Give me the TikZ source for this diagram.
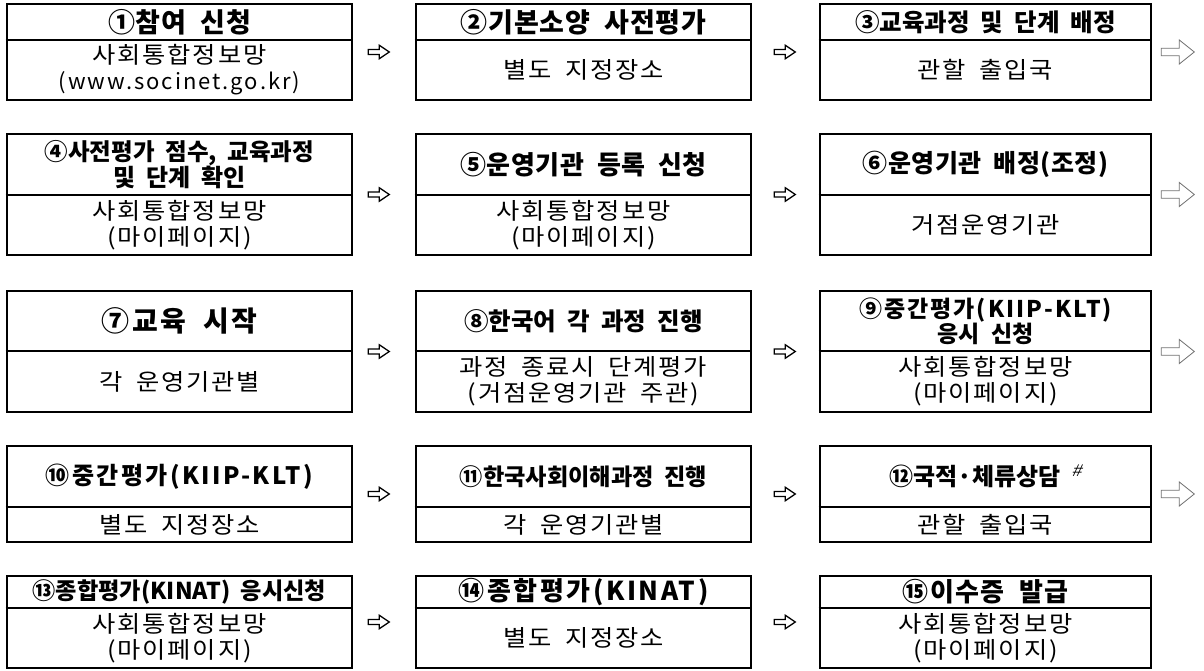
\documentclass[tikz,border=0pt]{standalone}
\usepackage{fontspec}
\newfontfamily\krhead[WordSpace=2]{Noto Sans CJK KR}
\newfontfamily\krbody[LetterSpace=8, FakeStretch=1.1, WordSpace=1.8]{Noto Sans CJK KR}
\newfontfamily\krlatin[LetterSpace=9]{Noto Sans CJK KR}
\newfontfamily\hashfont[FakeSlant=0.25]{Liberation Sans}
\usetikzlibrary{calc}
\tikzset{
  boxst/.style={draw, line width=2.6pt, inner sep=0pt, fill=white},
  divst/.style={line width=1.2pt},
  hdst/.style={font=\krhead\bfseries\fontsize{24}{25}\selectfont, align=center, inner sep=0pt},
  bdst/.style={font=\krbody\fontsize{23}{26}\selectfont, align=center, inner sep=0pt},
  darrow/.pic={\draw[line width=1.3pt, fill=white, line join=miter]
     (0,-2.5) -- (11,-2.5) -- (11,-6.7) -- (21,0) -- (11,6.7) -- (11,2.5) -- (0,2.5) -- cycle;},
  garrow/.pic={\draw[line width=0.8pt, draw=black!55, fill=white, line join=miter]
     (0,-3.7) -- (18,-3.7) -- (18,-12) -- (33,0) -- (18,12) -- (18,3.7) -- (0,3.7) -- cycle;},
}
\newcommand\flowbox[8]{%
  \pgfmathsetmacro\bxw{#3-#2}\pgfmathsetmacro\bxh{#6-#4}%
  \pgfmathsetmacro\bxc{(#2+#3)/2}\pgfmathsetmacro\bym{(#4+#6)/2}%
  \pgfmathsetmacro\byh{(#4+#5)/2}\pgfmathsetmacro\byb{(#5+#6)/2}%
  \node[boxst, minimum width=\bxw pt, minimum height=\bxh pt] (#1) at (\bxc,\bym) {};
  \draw[divst] (#1.west |- 0,#5) -- (#1.east |- 0,#5);
  \node[hdst] (#1h) at (\bxc,\byh) {#7};
  \node[bdst] (#1b) at (\bxc,\byb) {#8};
}
% header size and letter spacing
\newcommand\hsz[2]{\fontsize{#1}{25}\selectfont\addfontfeatures{LetterSpace=#2}}
\newcommand\urlline[1]{{\krlatin\fontsize{22}{26}\selectfont #1}}
\begin{document}
\begin{tikzpicture}[x=1pt, y=-1pt]
\useasboundingbox[fill=white] (0,0) rectangle (1204,671);
% row 1
\flowbox{b1}{7}{352}{4}{40}{100}{\hsz{27}{3}①참여 신청}{사회통합정보망\\\urlline{(www.socinet.go.kr)}}
\flowbox{b2}{416}{751}{4}{40}{100}{\hsz{27}{3}②기본소양 사전평가}{별도 지정장소}
\flowbox{b3}{820}{1151}{4}{40}{100}{\hsz{24.5}{0}③교육과정 및 단계 배정}{관할 출입국}
% row 2
\flowbox{b4}{7}{352}{134}{195}{255}{\hsz{23.5}{0}④사전평가 점수, 교육과정\\및 단계 확인}{사회통합정보망\\(마이페이지)}
\flowbox{b5}{416}{751}{134}{195}{255}{\hsz{26}{2}⑤운영기관 등록 신청}{사회통합정보망\\(마이페이지)}
\flowbox{b6}{820}{1151}{134}{195}{255}{\hsz{25}{2}⑥운영기관 배정(조정)}{거점운영기관}
% row 3
\flowbox{b7}{7}{352}{291}{351}{412}{\hsz{28}{8}⑦교육 시작}{각 운영기관별}
\flowbox{b8}{416}{751}{291}{351}{412}{\hsz{24.5}{0}⑧한국어 각 과정 진행}{과정 종료시 단계평가\\(거점운영기관 주관)}
\flowbox{b9}{820}{1151}{291}{351}{412}{\hsz{23}{9}⑨중간평가(KIIP-KLT)\\\hsz{23}{2}응시 신청}{사회통합정보망\\(마이페이지)}
% row 4
\flowbox{b10}{7}{352}{446}{507}{542}{\hsz{24}{10}⑩중간평가(KIIP-KLT)}{별도 지정장소}
\flowbox{b11}{416}{751}{446}{507}{542}{\hsz{23.2}{0}⑪한국사회이해과정 진행}{각 운영기관별}
\flowbox{b12}{820}{1151}{446}{507}{542}{\hsz{24}{0}⑫국적·체류상담 \raisebox{9pt}{\hashfont\mdseries\fontsize{17}{17}\selectfont\#}}{관할 출입국}
% row 5
\flowbox{b13}{7}{352}{576}{608}{668}{\hsz{23.2}{0}⑬종합평가(KINAT) 응시신청}{사회통합정보망\\(마이페이지)}
\flowbox{b14}{416}{751}{576}{608}{668}{\hsz{26}{10}⑭종합평가(KINAT)}{별도 지정장소}
\flowbox{b15}{820}{1151}{576}{608}{668}{\hsz{26}{5}⑮이수증 발급}{사회통합정보망\\(마이페이지)}
% arrows
\foreach \a/\b in {b1/b2, b4/b5, b7/b8, b10/b11, b13/b14}{
  \pic at ($(\a.east)+(15,0)$) {darrow};
}
\foreach \a/\b in {b2/b3, b5/b6, b8/b9, b11/b12, b14/b15}{
  \pic at ($(\a.east)+(22,0)$) {darrow};
}
\foreach \a in {b3, b6, b9, b12}{
  \pic at ($(\a.east)+(9,0)$) {garrow};
}
\end{tikzpicture}
\end{document}
